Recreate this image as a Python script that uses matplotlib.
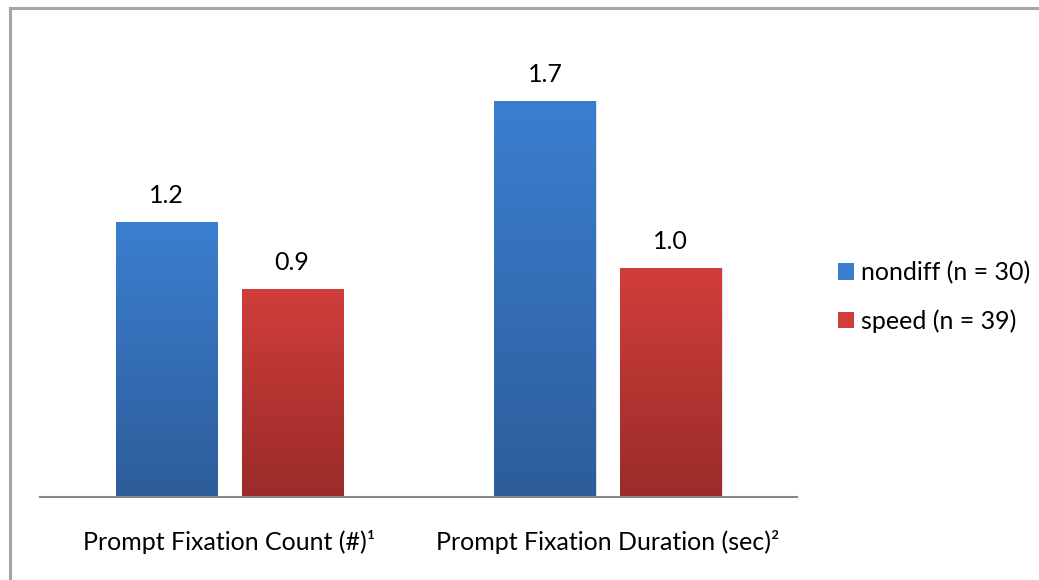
import matplotlib
matplotlib.use("Agg")
import matplotlib.pyplot as plt
import numpy as np
from matplotlib.lines import Line2D
from matplotlib.patches import Rectangle
from matplotlib.colors import LinearSegmentedColormap

categories = ["Prompt Fixation Count (#)\u00b9", "Prompt Fixation Duration (sec)\u00b2"]
series_names = ["nondiff (n = 30)", "speed (n = 39)"]
nondiff = [1.20, 1.73]
speed = [0.91, 1.00]
labels_nondiff = ["1.2", "1.7"]
labels_speed = ["0.9", "1.0"]

plt.rcParams['font.family'] = ['Lato', 'DejaVu Sans']

fig = plt.figure(figsize=(10.39, 5.80), dpi=100)
W, H = 1039, 580
ax = fig.add_axes([40 / W, (580 - 497) / H, 757 / W, 458 / H])

grad = {
    0: ("#3B7ED0", "#2D5D9A"),
    1: ("#D03E3B", "#9A2B29"),
}

x = np.arange(len(categories))
off = 0.166
bw = 0.267
series = [(nondiff, labels_nondiff, -off), (speed, labels_speed, off)]
for si, (vals, labs, o) in enumerate(series):
    bars = ax.bar(x + o, vals, width=bw, color='none', edgecolor='none', zorder=3)
    cmap = LinearSegmentedColormap.from_list("g%d" % si, [grad[si][1], grad[si][0]])
    for b, v, lab in zip(bars, vals, labs):
        x0 = b.get_x()
        sh = Rectangle((x0 + 0.004, 0), bw, v, facecolor='#000000', alpha=0.12,
                       edgecolor='none', zorder=2)
        ax.add_patch(sh)
        img = ax.imshow(np.linspace(0, 1, 256).reshape(-1, 1), cmap=cmap,
                        origin='lower', aspect='auto',
                        extent=(x0, x0 + bw, 0, v), zorder=3)
        img.set_clip_path(b)
        ax.text(b.get_x() + bw / 2, v + 0.065, lab, ha='center', va='bottom',
                fontsize=18, color='#000000', zorder=5)

ax.set_xlim(-0.5, 1.5)
ax.set_ylim(0, 2.0)
ax.set_yticks([])
ax.set_xticks(x)
ax.set_xticklabels(categories, fontsize=18)
ax.tick_params(axis='x', length=0, pad=24)
for s in ['top', 'right', 'left']:
    ax.spines[s].set_visible(False)
ax.spines['bottom'].set_color('#888888')
ax.spines['bottom'].set_linewidth(1.5)
ax.spines['bottom'].set_zorder(6)

handles = [Rectangle((0, 0), 1, 1, facecolor=grad[0][0]),
           Rectangle((0, 0), 1, 1, facecolor=grad[1][0])]
fig.legend(handles, series_names, loc='center left',
           bbox_to_anchor=(828 / W, 1 - 297 / H), frameon=False,
           fontsize=18, handlelength=0.62, handleheight=0.62,
           handletextpad=0.3, labelspacing=1.0, borderaxespad=0)

fig.add_artist(Line2D([10 / W, 1.0], [1 - 8 / H, 1 - 8 / H], color='#A6A6A6', lw=2.2,
                      transform=fig.transFigure))
fig.add_artist(Line2D([10 / W, 10 / W], [0, 1 - 8 / H], color='#A6A6A6', lw=2.2,
                      transform=fig.transFigure))

fig.savefig("out.png", dpi=100)
